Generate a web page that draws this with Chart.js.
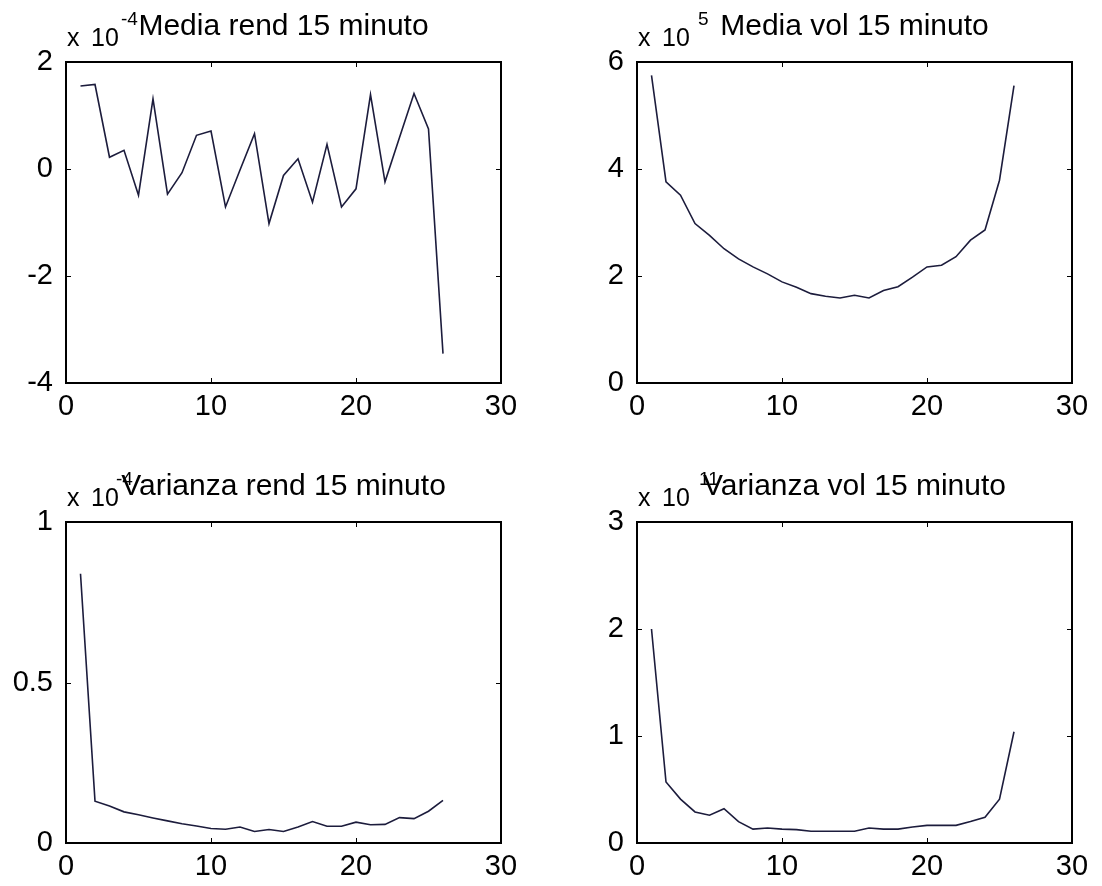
<!DOCTYPE html>
<html>
<head>
<meta charset="utf-8">
<title>Media e varianza 15 minuto</title>
<script src="https://cdn.jsdelivr.net/npm/chart.js@4.4.1/dist/chart.umd.min.js"></script>
<style>
  body { margin: 0; background: #fff; }
  canvas { position: absolute; }
</style>
</head>
<body>
<canvas id="c1" width="551" height="443" style="left:0;top:0"></canvas>
<canvas id="c2" width="551" height="443" style="left:551px;top:0"></canvas>
<canvas id="c3" width="551" height="426" style="left:0;top:460px"></canvas>
<canvas id="c4" width="551" height="426" style="left:551px;top:460px"></canvas>
<script>
// intervalli da 15 minuti
const intervals = [1, 2, 3, 4, 5, 6, 7, 8, 9, 10, 11, 12, 13, 14, 15, 16, 17, 18, 19, 20, 21, 22, 23, 24, 25, 26];

// media rendimenti (x 10^-4)
const mediaRend = [1.55, 1.58, 0.22, 0.35, -0.49, 1.31, -0.47, -0.07, 0.63, 0.71, -0.71, -0.02, 0.66,
  -1.02, -0.12, 0.19, -0.62, 0.46, -0.71, -0.37, 1.39, -0.24, 0.59, 1.41, 0.75, -3.45];
// media volumi (x 10^5)
const mediaVol = [5.75, 3.76, 3.51, 2.98, 2.76, 2.51, 2.32, 2.17, 2.04, 1.89, 1.79, 1.67, 1.62,
  1.59, 1.64, 1.59, 1.73, 1.80, 1.98, 2.17, 2.20, 2.36, 2.67, 2.86, 3.79, 5.56];
// varianza rendimenti (x 10^-4)
const varRend = [0.839, 0.130, 0.115, 0.097, 0.088, 0.078, 0.069, 0.060, 0.053, 0.045, 0.043, 0.050, 0.036,
  0.042, 0.036, 0.050, 0.067, 0.052, 0.052, 0.065, 0.057, 0.058, 0.079, 0.076, 0.099, 0.133];
// varianza volumi (x 10^11)
const varVol = [2.00, 0.57, 0.41, 0.29, 0.26, 0.32, 0.20, 0.13, 0.14, 0.13, 0.125, 0.11, 0.11,
  0.11, 0.11, 0.14, 0.13, 0.13, 0.15, 0.165, 0.165, 0.165, 0.20, 0.24, 0.41, 1.04];

const xTicks = [0, 10, 20, 30];

const FONT = "'Liberation Sans', Arial, sans-serif";
const LINE_COLOR = '#1c1c3c';

// box + tacche interne + esponente stile matlab
const matlabBox = {
  id: 'matlabBox',
  afterDatasetsDraw(chart, args, opts) {
    const { ctx, chartArea: a, scales: { x, y } } = chart;
    ctx.save();
    ctx.strokeStyle = '#000';
    ctx.lineWidth = 1;
    ctx.beginPath();
    x.ticks.forEach(t => {
      const px = Math.round(x.getPixelForValue(t.value)) + 0.5;
      ctx.moveTo(px, a.bottom); ctx.lineTo(px, a.bottom - 5);
      ctx.moveTo(px, a.top); ctx.lineTo(px, a.top + 5);
    });
    y.ticks.forEach(t => {
      const py = Math.round(y.getPixelForValue(t.value)) + 0.5;
      ctx.moveTo(a.left, py); ctx.lineTo(a.left + 5, py);
      ctx.moveTo(a.right, py); ctx.lineTo(a.right - 5, py);
    });
    ctx.stroke();
    ctx.lineWidth = 2;
    ctx.strokeRect(a.left, a.top, a.right - a.left, a.bottom - a.top);

    ctx.fillStyle = '#000';
    ctx.textBaseline = 'alphabetic';
    ctx.textAlign = 'left';
    ctx.font = '25px ' + FONT;
    ctx.fillText('x', a.left + 1, a.top - 16);
    ctx.fillText('10', a.left + 25, a.top - 16);
    ctx.font = '19px ' + FONT;
    ctx.fillText(opts.exp, a.left + opts.expX, a.top - 37);
    ctx.restore();
  }
};

function panel(id, values, yMin, yMax, yStep, title, exp, expX, axisW, padRight, axisH) {
  const points = intervals.map((v, i) => ({ x: v, y: values[i] }));
  return new Chart(document.getElementById(id), {
    type: 'line',
    data: {
      datasets: [{
        data: points,
        borderColor: LINE_COLOR,
        borderWidth: 1.6,
        pointRadius: 0,
        tension: 0,
        fill: false
      }]
    },
    options: {
      responsive: false,
      animation: false,
      events: [],
      layout: { padding: { left: 0, right: padRight, top: 0, bottom: 0 } },
      scales: {
        x: {
          type: 'linear',
          min: 0, max: 30,
          afterBuildTicks: s => { s.ticks = xTicks.map(v => ({ value: v })); },
          afterFit: s => { s.height = axisH; },
          grid: { display: false, drawTicks: false },
          border: { display: false },
          ticks: { color: '#000', font: { family: FONT, size: 29 }, padding: 7, maxRotation: 0 }
        },
        y: {
          min: yMin, max: yMax,
          ticks: {
            stepSize: yStep, color: '#000', padding: 13,
            font: { family: FONT, size: 29 },
            callback: v => String(Math.round(v * 10) / 10)
          },
          afterFit: s => { s.width = axisW; },
          grid: { display: false, drawTicks: false },
          border: { display: false }
        }
      },
      plugins: {
        legend: { display: false },
        tooltip: { enabled: false },
        title: {
          display: true,
          text: title,
          fullSize: false,
          color: '#000',
          font: { family: FONT, size: 30, weight: 'normal' },
          padding: { top: 9, bottom: 17 }
        },
        matlabBox: { exp: exp, expX: expX }
      }
    },
    plugins: [matlabBox]
  });
}

panel('c1', mediaRend, -4, 2, 2, 'Media rend 15 minuto', '-4', 55, 66, 50, 60);
panel('c2', mediaVol, 0, 6, 2, 'Media vol 15 minuto', '5', 61, 86, 30, 60);
panel('c3', varRend, 0, 1, 0.5, 'Varianza rend 15 minuto', '-4', 50, 66, 50, 43);
panel('c4', varVol, 0, 3, 1, 'Varianza vol 15 minuto', '11', 62, 86, 30, 43);
</script>
</body>
</html>
